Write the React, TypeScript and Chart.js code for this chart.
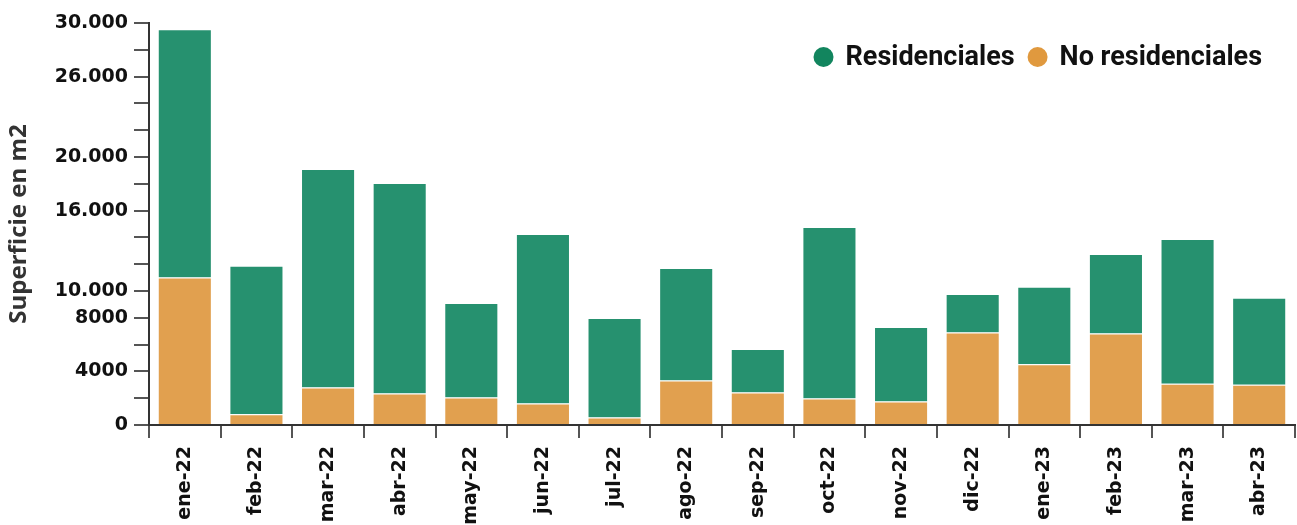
import React, { useEffect, useRef } from "react";
import { Chart, registerables } from "chart.js";

Chart.register(...registerables);

const months = [
  "ene-22", "feb-22", "mar-22", "abr-22", "may-22", "jun-22", "jul-22", "ago-22",
  "sep-22", "oct-22", "nov-22", "dic-22", "ene-23", "feb-23", "mar-23", "abr-23",
];
const residenciales = [
  18530, 11090, 16300, 15710, 7050, 12650, 7420, 8390,
  3240, 12800, 5550, 2880, 5790, 5940, 10800, 6500,
];
const noResidenciales = [
  11000, 800, 2800, 2350, 2050, 1600, 560, 3330,
  2430, 1980, 1760, 6900, 4530, 6820, 3080, 3000,
];
const labeledTicks = [0, 4000, 8000, 10000, 16000, 20000, 26000, 30000];
const seriesNames = ["Residenciales", "No residenciales"];
const yTitle = "Superficie en m2";

const GREEN = "#26916F";
const ORANGE = "#E1A04F";
const GREEN_DOT = "#12855E";
const ORANGE_DOT = "#E0993E";

function fmt(v: number): string {
  if (v < 10000) return String(v);
  const s = String(v);
  return s.replace(/\B(?=(\d{3})+(?!\d))/g, ".");
}

export default function App() {
  const ref = useRef<HTMLCanvasElement>(null);
  useEffect(() => {
    document.body.style.margin = "0";
    const legendPlugin = {
      id: "customLegend",
      afterDraw(chart: any) {
        const ctx = chart.ctx;
        const items = [
          { label: seriesNames[0], color: GREEN_DOT },
          { label: seriesNames[1], color: ORANGE_DOT },
        ];
        ctx.save();
        ctx.font = "bold 27px Roboto";
        ctx.textBaseline = "middle";
        ctx.textAlign = "left";
        const r = 10;
        const gapDotText = 12;
        const gapItems = 13;
        const widths = items.map((it) => ctx.measureText(it.label).width);
        let total = 0;
        items.forEach((it, i) => {
          total += 2 * r + gapDotText + widths[i];
          if (i < items.length - 1) total += gapItems;
        });
        const right = 1262;
        let x = right - total;
        const y = 57;
        items.forEach((it, i) => {
          ctx.fillStyle = it.color;
          ctx.beginPath();
          ctx.arc(x + r, y, r, 0, Math.PI * 2);
          ctx.fill();
          x += 2 * r + gapDotText;
          ctx.fillStyle = "#111";
          ctx.fillText(it.label, x, y + 1);
          x += widths[i] + gapItems;
        });
        ctx.restore();
      },
    };

    const chart = new Chart(ref.current as HTMLCanvasElement, {
      type: "bar",
      data: {
        labels: months,
        datasets: [
          {
            label: seriesNames[1],
            data: noResidenciales,
            backgroundColor: ORANGE,
            borderColor: "rgba(255,255,255,0.9)",
            borderWidth: 1,
            barPercentage: 0.755,
            categoryPercentage: 1,
          },
          {
            label: seriesNames[0],
            data: residenciales,
            backgroundColor: GREEN,
            borderColor: "rgba(255,255,255,0.9)",
            borderWidth: 1,
            barPercentage: 0.755,
            categoryPercentage: 1,
          },
        ],
      },
      options: {
        responsive: false,
        animation: false,
        layout: { padding: { top: 23, right: 2, left: 0, bottom: 0 } },
        plugins: {
          legend: { display: false },
          tooltip: { enabled: false },
        },
        scales: {
          x: {
            stacked: true,
            grid: {
              display: true,
              drawOnChartArea: false,
              drawTicks: true,
              tickLength: 13,
              color: "#555",
              lineWidth: 2,
            },
            border: { display: true, color: "#333", width: 2 },
            ticks: {
              maxRotation: 90,
              minRotation: 90,
              autoSkip: false,
              padding: 8,
              color: "#111",
              font: { family: "DejaVu Sans", size: 19, weight: "bold" },
            },
            afterFit(scale: any) {
              scale.height = 100;
            },
          },
          y: {
            stacked: true,
            min: 0,
            max: 30000,
            grid: {
              display: true,
              drawOnChartArea: false,
              drawTicks: true,
              tickLength: 15,
              color: "#555",
              lineWidth: 2,
            },
            border: { display: true, color: "#333", width: 2 },
            ticks: {
              stepSize: 2000,
              autoSkip: false,
              padding: 6,
              color: "#111",
              font: { family: "DejaVu Sans", size: 19, weight: "bold" },
              callback(value: any) {
                const v = Number(value);
                return labeledTicks.includes(v) ? fmt(v) : "";
              },
            },
            title: {
              display: true,
              text: yTitle,
              color: "#333",
              font: { family: "Open Sans", size: 24, weight: "bold" },
              padding: { top: 5, bottom: 4 },
            },
            afterFit(scale: any) {
              scale.width = 149;
            },
          },
        },
      },
      plugins: [legendPlugin],
    });
    return () => chart.destroy();
  }, []);
  return (
    <div style={{ width: 1297, height: 525 }}>
      <canvas ref={ref} width={1297} height={525} style={{ display: "block" }} />
    </div>
  );
}
